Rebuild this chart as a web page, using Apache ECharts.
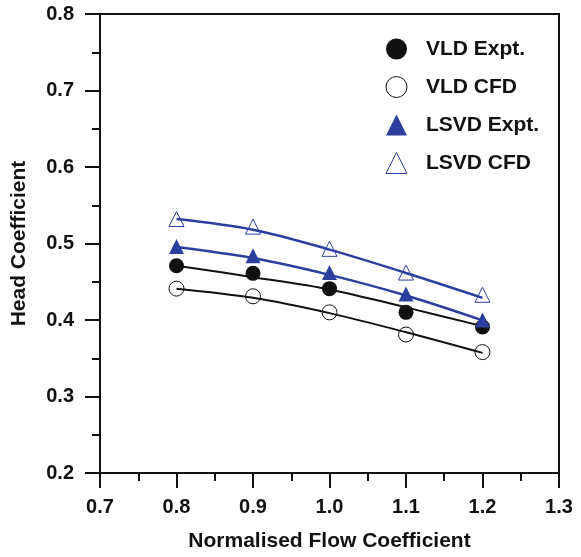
<!DOCTYPE html>
<html>
<head>
<meta charset="utf-8">
<script src="https://cdn.jsdelivr.net/npm/echarts@6/dist/echarts.min.js"></script>
<style>html,body{margin:0;padding:0;background:#fff;}#c{width:581px;height:557px;}</style>
</head>
<body>
<div id="c"></div>
<script>
const flow = [0.8, 0.9, 1.0, 1.1, 1.2];
const vldExpt = [0.471, 0.461, 0.441, 0.410, 0.391];
const vldCfd = [0.441, 0.431, 0.410, 0.381, 0.358];
const lsvdExpt = [0.496, 0.484, 0.462, 0.434, 0.400];
const lsvdCfd = [0.532, 0.522, 0.493, 0.462, 0.433];
const vldExptFit = [0.471, 0.456, 0.440, 0.4165, 0.392];
const vldCfdFit = [0.441, 0.429, 0.409, 0.384, 0.357];
const lsvdExptFit = [0.4955, 0.481, 0.459, 0.432, 0.3995];
const lsvdCfdFit = [0.532, 0.518, 0.492, 0.4615, 0.429];
const seriesNames = ['VLD Expt.', 'VLD CFD', 'LSVD Expt.', 'LSVD CFD'];

const BLUE = '#2d3f9e';
const INK = '#111';
const FONT = '"Liberation Sans", Arial, Helvetica, sans-serif';
const pairs = a => flow.map((x, i) => [x, a[i]]);

const chart = echarts.init(document.getElementById('c'), null, {renderer: 'canvas'});

function fitLine(data, color, w) {
  return {type: 'line', data: pairs(data), smooth: 0.35, symbol: 'none', silent: true,
    lineStyle: {color: color, width: w}, z: 2};
}
function marks(name, data, symbol, size, style) {
  return {type: 'scatter', name: name, data: pairs(data), symbol: symbol, symbolSize: size,
    itemStyle: Object.assign({opacity: 1}, style), z: 3};
}

const axisCommon = {
  type: 'value', interval: 0.1,
  axisLine: {show: true, lineStyle: {color: INK, width: 2}},
  axisTick: {show: true, inside: false, length: 15, lineStyle: {color: INK, width: 2}},
  minorTick: {show: true, splitNumber: 2, length: 8, lineStyle: {color: INK, width: 2}},
  splitLine: {show: false},
  axisLabel: {fontFamily: FONT, fontWeight: 'bold', fontSize: 20, color: INK,
    formatter: v => v.toFixed(1)},
  nameLocation: 'middle',
  nameTextStyle: {fontFamily: FONT, fontWeight: 'bold', fontSize: 21, color: INK}
};

chart.setOption({
  animation: false,
  backgroundColor: '#fff',
  grid: {left: 100, right: 22, top: 14, bottom: 83.5, show: true, borderColor: INK, borderWidth: 2,
    backgroundColor: 'transparent'},
  xAxis: Object.assign({}, axisCommon, {min: 0.7, max: 1.3, name: 'Normalised Flow Coefficient', nameGap: 58,
    axisLabel: Object.assign({}, axisCommon.axisLabel, {margin: 24})}),
  yAxis: Object.assign({}, axisCommon, {min: 0.2, max: 0.8, name: 'Head Coefficient', nameGap: 70,
    axisLabel: Object.assign({}, axisCommon.axisLabel, {margin: 26})}),
  legend: {
    orient: 'vertical', left: 385.5, top: 38.5, itemWidth: 21, itemHeight: 21, itemGap: 16.5,
    padding: 0,
    textStyle: {fontFamily: FONT, fontWeight: 'bold', fontSize: 21, color: INK, lineHeight: 21,
      padding: [0, 0, 0, 14]},
    data: [
      {name: seriesNames[0], icon: 'circle', itemStyle: {color: INK, borderWidth: 0, opacity: 1}},
      {name: seriesNames[1], icon: 'circle', itemStyle: {color: '#fff', borderColor: INK, borderWidth: 1, opacity: 1}},
      {name: seriesNames[2], icon: 'triangle', itemStyle: {color: BLUE, borderWidth: 0, opacity: 1}},
      {name: seriesNames[3], icon: 'triangle', itemStyle: {color: '#fff', borderColor: BLUE, borderWidth: 1, opacity: 1}}
    ]
  },
  series: [
    fitLine(vldCfdFit, INK, 2),
    fitLine(vldExptFit, INK, 2),
    fitLine(lsvdExptFit, BLUE, 2.5),
    fitLine(lsvdCfdFit, BLUE, 2.5),
    marks(seriesNames[0], vldExpt, 'circle', 15, {color: INK}),
    marks(seriesNames[1], vldCfd, 'circle', 15, {color: 'rgba(0,0,0,0)', borderColor: INK, borderWidth: 1}),
    marks(seriesNames[2], lsvdExpt, 'triangle', 15, {color: BLUE}),
    marks(seriesNames[3], lsvdCfd, 'triangle', 15, {color: 'rgba(0,0,0,0)', borderColor: BLUE, borderWidth: 1})
  ]
});
</script>
</body>
</html>
